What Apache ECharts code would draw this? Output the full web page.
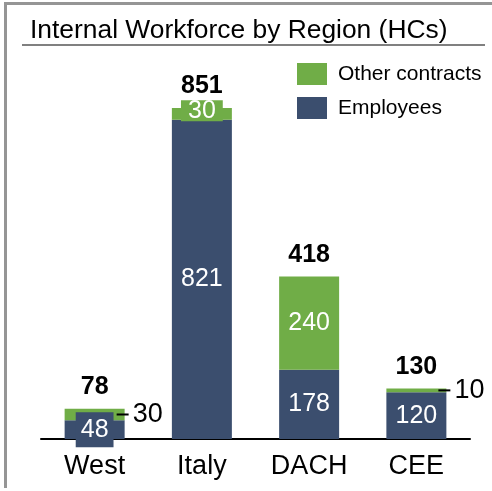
<!DOCTYPE html>
<html>
<head>
<meta charset="utf-8">
<title>Internal Workforce by Region</title>
<script src="https://cdn.jsdelivr.net/npm/echarts@6/dist/echarts.min.js"></script>
<style>
  html, body { margin: 0; padding: 0; background: #fff; }
  #chart { width: 492px; height: 491px; }
</style>
</head>
<body>
<div id="chart"></div>
<script>
// data
const regions = ['West', 'Italy', 'DACH', 'CEE']
const employees = [48, 821, 178, 120]
const otherContracts = [30, 30, 240, 10]
const totals = [78, 851, 418, 130]

const NAVY = '#3b4e6e'
const GREEN = '#70ad47'
const FONT = 'Liberation Sans, Arial, sans-serif'

const chart = echarts.init(document.getElementById('chart'))

// per-bar label tweaks
function employeeItem(v, i) {
  if (i === 0) {
    return {
      value: v,
      label: { backgroundColor: NAVY, padding: [5, 5, 5, 5], lineHeight: 25 }
    }
  }
  return v
}

function otherItem(v, i) {
  if (i === 1) {
    return {
      value: v,
      label: { backgroundColor: GREEN, padding: [0, 7], lineHeight: 21, offset: [0, -3] }
    }
  }
  if (i === 0 || i === 3) {
    return {
      value: v,
      label: {
        position: 'right',
        distance: -8,
        formatter: '{l|}{v|{c}}'
      }
    }
  }
  return v
}

const option = {
  animation: false,
  textStyle: { fontFamily: FONT },
  title: {
    text: 'Internal Workforce by Region (HCs)',
    left: 30,
    top: 18,
    padding: 0,
    textStyle: { fontSize: 26.4, fontWeight: 'normal', color: '#000', fontFamily: FONT }
  },
  legend: {
    data: ['Other contracts', 'Employees'],
    orient: 'vertical',
    left: 297,
    top: 63,
    padding: 0,
    itemWidth: 30,
    itemHeight: 22,
    itemGap: 12,
    icon: 'rect',
    textStyle: { fontSize: 21, color: '#000', padding: [0, 0, 0, 6], fontFamily: FONT }
  },
  graphic: [
    { type: 'line', shape: { x1: 4, y1: 3.5, x2: 492, y2: 3.5 }, style: { stroke: '#959595', lineWidth: 3 } },
    { type: 'line', shape: { x1: 5.5, y1: 2, x2: 5.5, y2: 488 }, style: { stroke: '#959595', lineWidth: 3 } },
    { type: 'line', shape: { x1: 22, y1: 45, x2: 485, y2: 45 }, style: { stroke: '#808080', lineWidth: 2 } }
  ],
  grid: { left: 41, right: 22, top: 50, bottom: 52, containLabel: false },
  xAxis: {
    type: 'category',
    data: regions,
    axisLine: { lineStyle: { color: '#000', width: 2 } },
    axisTick: { show: false },
    axisLabel: { color: '#000', fontSize: 27, margin: 14, fontFamily: FONT }
  },
  yAxis: {
    type: 'value',
    min: 0,
    max: 1000,
    show: false,
    splitLine: { show: false }
  },
  series: [
    {
      name: 'Employees',
      type: 'bar',
      stack: 'hc',
      barWidth: 60,
      itemStyle: { color: NAVY },
      label: {
        show: true,
        position: 'inside',
        color: '#fff',
        fontSize: 25,
        fontFamily: FONT
      },
      data: employees.map(employeeItem)
    },
    {
      name: 'Other contracts',
      type: 'bar',
      stack: 'hc',
      barWidth: 60,
      itemStyle: { color: GREEN },
      label: {
        show: true,
        position: 'inside',
        color: '#fff',
        fontSize: 25,
        fontFamily: FONT,
        rich: {
          l: { width: 12, height: 2, backgroundColor: '#000', verticalAlign: 'middle' },
          v: { fontSize: 27, color: '#000', padding: [0, 0, 0, 4], verticalAlign: 'middle', fontFamily: FONT }
        }
      },
      data: otherContracts.map(otherItem)
    },
    {
      name: 'Total',
      type: 'bar',
      stack: 'hc',
      barWidth: 60,
      itemStyle: { color: 'transparent' },
      label: {
        show: true,
        position: 'top',
        distance: 9,
        color: '#000',
        fontSize: 25,
        fontWeight: 'bold',
        fontFamily: FONT,
        formatter: function(p) {
          return totals[p.dataIndex]
        }
      },
      data: regions.map(function() { return 0 })
    }
  ]
}

chart.setOption(option)
</script>
</body>
</html>
